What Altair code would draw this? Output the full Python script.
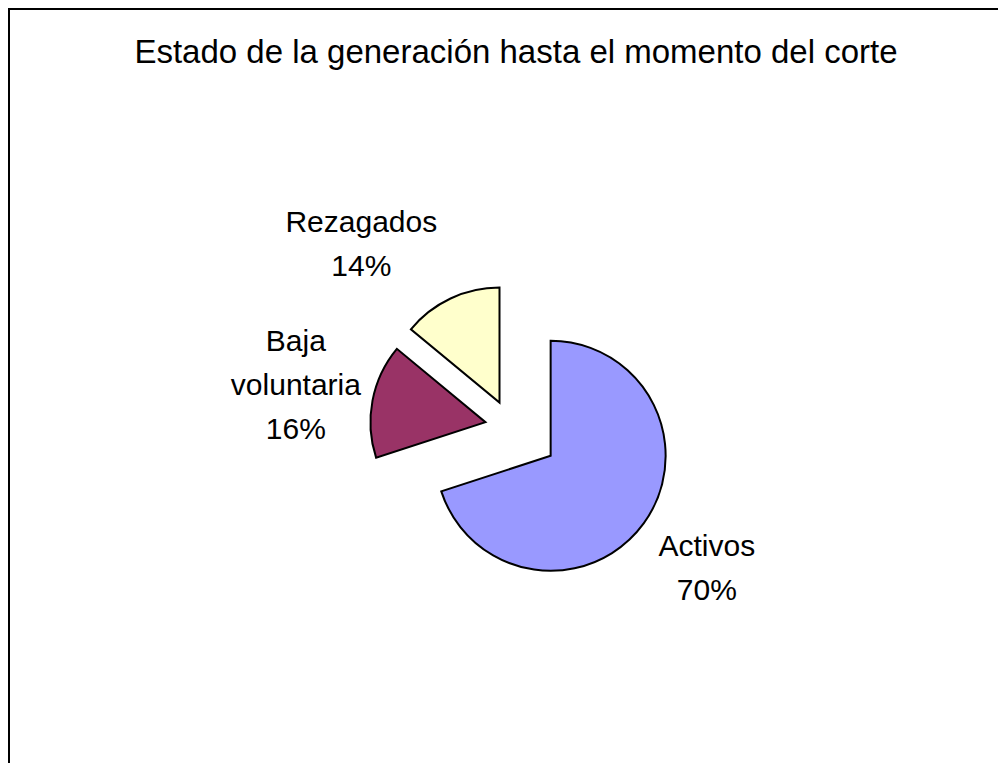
import altair as alt
import pandas as pd

# ---- data ----
categories = ["Activos", "Baja voluntaria", "Rezagados"]
display_names = ["Activos", "Baja\nvoluntaria", "Rezagados"]
values = [70, 16, 14]
slice_colors = ["#9999FF", "#993366", "#FFFFCC"]
title_text = "Estado de la generación hasta el momento del corte"

# ---- layout / style constants ----
W, H = 990, 755
CX, CY = 503, 419          # pie centre (plot coords)
RADIUS = 115
LABEL_R = 193
LINE_H = 44
EXPLODE = {"Activos": 49, "Baja voluntaria": 26, "Rezagados": 27}
LABEL_ADJ = {"Activos": (0, 0), "Baja voluntaria": (0, 0), "Rezagados": (-56, 17)}
FONT = "Liberation Sans"

df = pd.DataFrame({
    "cat": categories,
    "name": display_names,
    "value": values,
    "order": list(range(len(categories))),
})


def per_cat(d, idx=None):
    expr = "0"
    for k, v in reversed(list(d.items())):
        val = v if idx is None else v[idx]
        expr = f"datum.cat === '{k}' ? {val} : ({expr})"
    return expr


base = (
    alt.Chart(df)
    .transform_window(cum="sum(value)", sort=[alt.SortField("order")])
    .transform_joinaggregate(total="sum(value)")
    .transform_calculate(
        start="(datum.cum - datum.value) / datum.total * 2 * PI",
        end="datum.cum / datum.total * 2 * PI",
    )
    .transform_calculate(mid="(datum.start + datum.end) / 2", explode=per_cat(EXPLODE))
    .transform_calculate(
        cx=f"{CX} + datum.explode * sin(datum.mid)",
        cy=f"{CY} - datum.explode * cos(datum.mid)",
        adjx=per_cat(LABEL_ADJ, 0),
        adjy=per_cat(LABEL_ADJ, 1),
        label="datum.name + '\\n' + round(datum.value / datum.total * 100) + '%'",
    )
    .transform_calculate(nlines="length(split(datum.label, '\\n'))")
    .transform_calculate(
        lx=f"datum.cx + {LABEL_R} * sin(datum.mid) + datum.adjx",
        ly=f"datum.cy - {LABEL_R} * cos(datum.mid) + datum.adjy - (datum.nlines - 1) * {LINE_H} / 2",
    )
)

arcs = base.mark_arc(outerRadius=RADIUS, stroke="black", strokeWidth=2).encode(
    theta=alt.Theta("start:Q", scale=None),
    theta2="end:Q",
    x=alt.X("cx:Q", scale=None, axis=None),
    y=alt.Y("cy:Q", scale=None, axis=None),
    color=alt.Color("cat:N", scale=alt.Scale(domain=categories, range=slice_colors), legend=None),
)

labels = base.mark_text(
    font=FONT, fontSize=30, lineBreak="\n", lineHeight=LINE_H,
    align="center", baseline="middle", color="black",
).encode(
    x=alt.X("lx:Q", scale=None, axis=None),
    y=alt.Y("ly:Q", scale=None, axis=None),
    text="label:N",
)

title_df = pd.DataFrame({"t": [title_text]})
title = alt.Chart(title_df).mark_text(
    font=FONT, fontSize=33, align="center", baseline="alphabetic", color="black"
).encode(x=alt.value(508), y=alt.value(55), text="t:N")

frame_df = pd.DataFrame({"k": [0]})
left_edge = alt.Chart(frame_df).mark_rule(color="black", strokeWidth=2).encode(
    x=alt.value(1), y=alt.value(0), y2=alt.value(H)
)
top_edge = alt.Chart(frame_df).mark_rule(color="black", strokeWidth=2).encode(
    x=alt.value(0), x2=alt.value(W), y=alt.value(1)
)

chart = (
    alt.layer(left_edge, top_edge, title, arcs, labels)
    .properties(width=W, height=H, padding=0, autosize=alt.AutoSizeParams(type="none"))
    .configure_view(stroke=None)
    .configure(background="white")
)

chart.save("out.html", embed_options={"renderer": "svg", "actions": False})
